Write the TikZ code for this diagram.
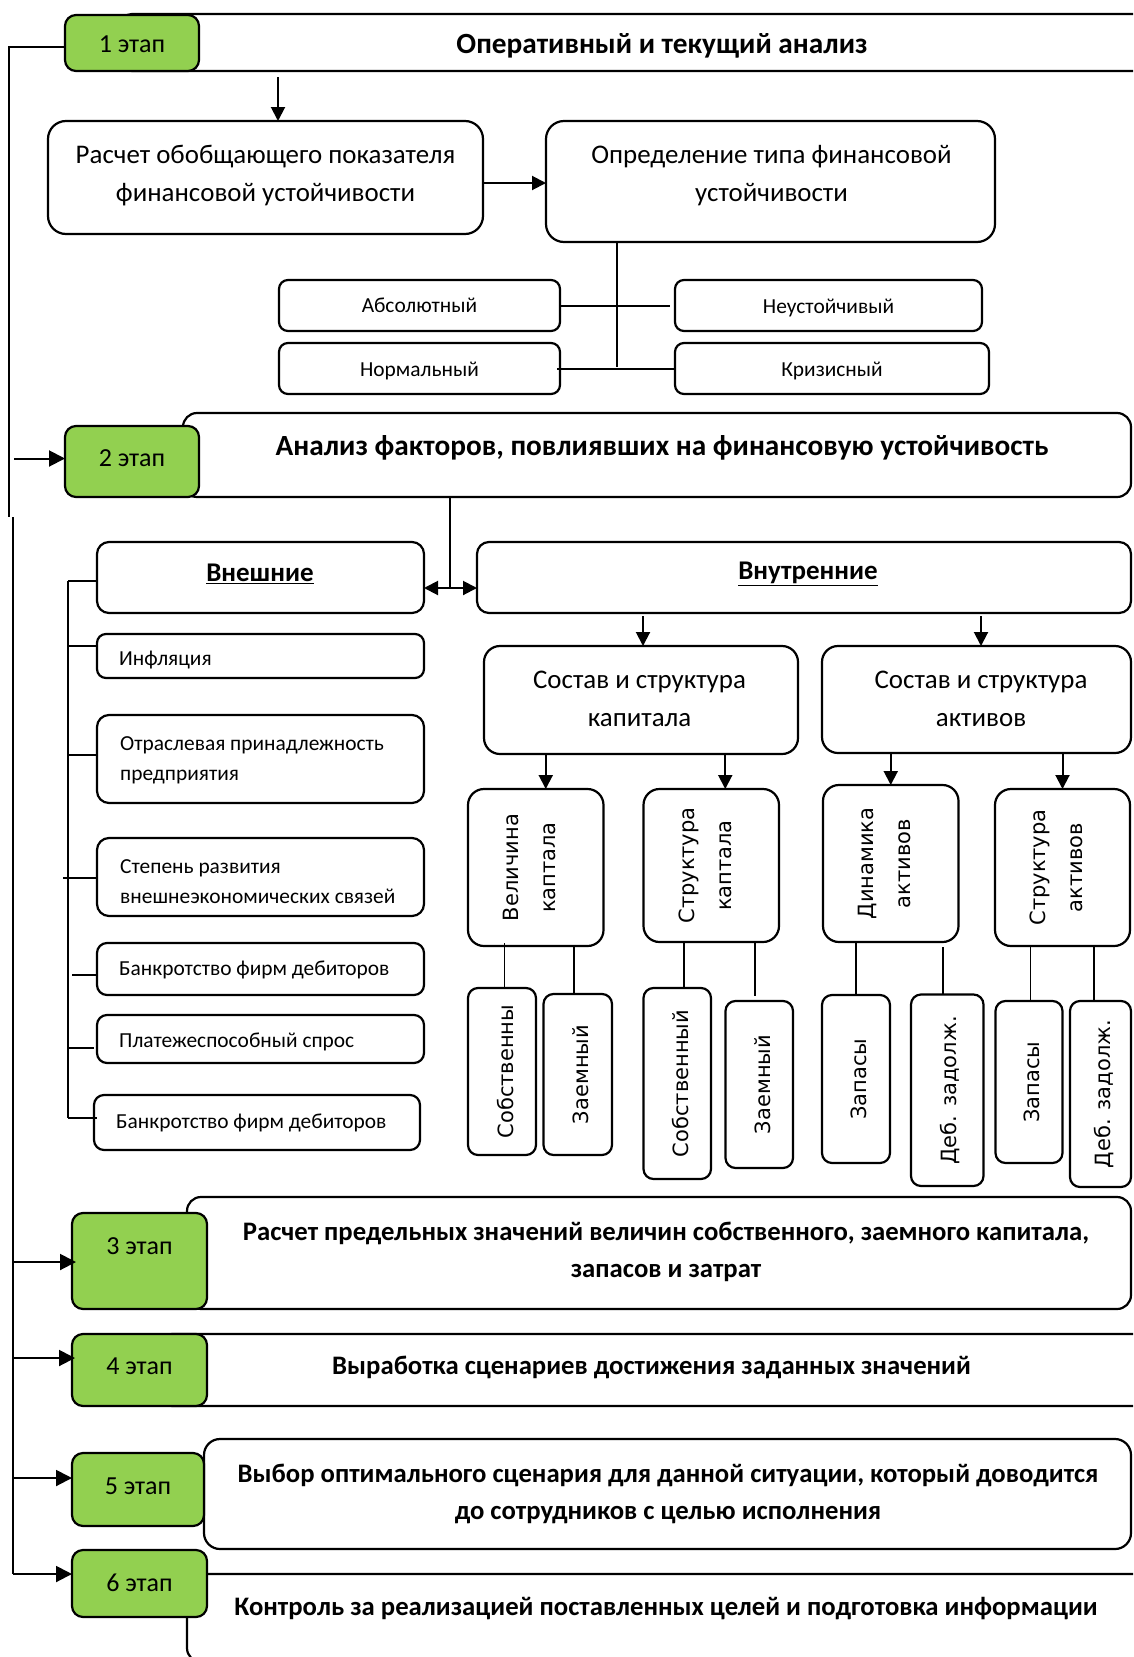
\documentclass[tikz,border=0pt]{standalone}
\usepackage{fontspec}
\setmainfont{Carlito}
\newfontfamily\dvfont{DejaVu Sans}
\usetikzlibrary{arrows.meta,calc}
\definecolor{stagegreen}{RGB}{146,208,80}
\newcommand{\ttlf}{\bfseries\fontsize{29.3}{37}\selectfont}
\newcommand{\ttlg}{\bfseries\fontsize{26.7}{37}\selectfont}
\newcommand{\stf}{\fontsize{26}{31}\selectfont}
\newcommand{\bgf}{\fontsize{26.9}{38}\selectfont}
\newcommand{\smf}{\fontsize{21.4}{30}\selectfont}
\newcommand{\vtf}{\dvfont\fontsize{21}{37}\selectfont}
\newcommand{\mkbox}[7]{\node[#1, minimum width={#5-#3}, minimum height={#6-#4}] (#2) at ({(#3+#5)/2},{(#4+#6)/2}) {#7};}
\begin{document}
\begin{tikzpicture}[x=1pt,y=-1pt,
 bx/.style={draw=black, line width=2.2pt, fill=white, rounded corners=#1, inner sep=0pt, outer sep=0pt},
 bx/.default=12pt,
 gbox/.style={draw=black, line width=2.2pt, fill=stagegreen, rounded corners=11pt, inner sep=0pt, outer sep=0pt},
 txt/.style={inner sep=0pt, align=center},
 ln/.style={draw=black, line width=2pt},
 thinln/.style={draw=black, line width=1.6pt},
 arr/.style={ln, -{Triangle[length=14pt,width=14pt]}},
 sarr/.style={ln, -{Triangle[length=16pt,width=16pt]}},
 vt/.style={inner sep=0pt, align=center, rotate=90, font=\vtf},
]
\useasboundingbox (0,0) rectangle (1133,1657);
\fill[white] (0,0) rectangle (1133,1657);
\clip (0,0) rectangle (1133,1657);

% ---------- left feedback line ----------
\coordinate (Ltop) at (9,46.7);
\coordinate (Ljog) at (9,517);
\coordinate (Lbot) at (12.5,1574);

% ---------- stage 1 ----------
\mkbox{bx}{s1}{120}{14}{1190}{71}{}
\mkbox{gbox}{g1}{65}{15}{199}{71}{}
\node[txt, font=\stf] (g1t) at (132,44) {1 этап};
\node[txt, font=\ttlf] (t1) at (662,46) {Оперативный и текущий анализ};
\draw[ln] (g1.west |- Ltop) -- (Ltop) -- (Ljog);
\draw[ln] (Ljog -| Lbot) -- (Lbot);

\mkbox{bx=18pt}{rasch}{48}{121}{483}{234}{}
\node[txt, font=\bgf] (rascht) at (265.5,176) {Расчет обобщающего показателя\\финансовой устойчивости};
\mkbox{bx=18pt}{opred}{546}{121}{995}{242}{}
\node[txt, font=\bgf] (opredt) at (771.5,176) {Определение типа финансовой\\устойчивости};

\path ($(rasch.north)+(12.5,0)$) coordinate (a1);
\draw[arr] ($(a1 |- s1.south)+(0,6)$) -- (a1);
\path ($(rasch.east)+(0,5.5)$) coordinate (a2);
\draw[arr] (a2) -- (a2 -| opred.west);

\mkbox{bx=9pt}{abs}{279}{280}{560}{331}{\smf Абсолютный}
\mkbox{bx=9pt}{norm}{279}{343}{560}{394}{}
\mkbox{bx=9pt}{neust}{675}{280}{982}{331}{}
\mkbox{bx=9pt}{kriz}{675}{343}{989}{394}{}
\node[txt, font=\smf] (normt) at ($(norm.center)+(0,2)$) {Нормальный};
\node[txt, font=\smf] (neustt) at ($(neust.center)+(0,2)$) {Неустойчивый};
\node[txt, font=\smf] (krizt) at ($(kriz.center)+(0,2)$) {Кризисный};

\coordinate (hub) at (617,367);
\draw[ln] (hub |- opred.south) -- (hub);
\draw[ln] (abs.east) -- ($(abs.east -| neust.west)+(-5,0)$);
\draw[ln] ($(norm.east)+(-3,0)$) -- (kriz.west);

% ---------- stage 2 ----------
\mkbox{bx=14pt}{s2}{183}{413}{1131}{497}{}
\mkbox{gbox}{g2}{65}{426}{199}{497}{}
\node[txt, font=\stf] (g2t) at (132,458) {2 этап};
\node[txt, font=\ttlf] (t2) at (662,448) {Анализ факторов, повлиявших на финансовую устойчивость};
\path ($(g2.west)+(0,-3)$) coordinate (a3);
\draw[sarr] ($(a3 -| Lbot)+(1.5,0)$) -- (a3);

\mkbox{bx}{vnesh}{97}{542}{424}{613}{}
\node[txt, font=\bfseries\fontsize{27}{32}\selectfont] (vnesht) at (260,574) {\underline{Внешние}};
\mkbox{bx}{vnutr}{477}{542}{1131}{613}{}
\node[txt, font=\bfseries\fontsize{27}{32}\selectfont] (vnutrt) at (808,574) {\underline{Внутренние}};

\coordinate (j2) at (450,588);
\draw[ln] (j2 |- s2.south) -- (j2);
\draw[arr] (j2) -- (j2 -| vnesh.east);
\draw[arr] (j2) -- (j2 -| vnutr.west);

% external factors
\mkbox{bx=9pt}{infl}{97}{634}{424}{678}{}
\mkbox{bx=12pt}{otr}{97}{715}{424}{803}{}
\mkbox{bx=12pt}{stp}{97}{838}{424}{916}{}
\mkbox{bx=10pt}{bankA}{97}{943}{424}{995}{}
\mkbox{bx=10pt}{plat}{97}{1015}{424}{1063}{}
\mkbox{bx=10pt}{bankB}{94}{1095}{420}{1150}{}
\node[txt, align=left, anchor=west, font=\smf] (inflt) at ($(infl.west)+(22,4)$) {Инфляция};
\node[txt, align=left, anchor=west, font=\smf] (otrt) at ($(otr.west)+(23,1)$) {Отраслевая принадлежность\\предприятия};
\node[txt, align=left, anchor=west, font=\smf] (stpt) at ($(stp.west)+(23,5)$) {Степень развития\\внешнеэкономических связей};
\node[txt, align=left, anchor=west, font=\smf] (bankAt) at ($(bankA.west)+(22,1)$) {Банкротство фирм дебиторов};
\node[txt, align=left, anchor=west, font=\smf] (platt) at ($(plat.west)+(22,3)$) {Платежеспособный спрос};
\node[txt, align=left, anchor=west, font=\smf] (bankBt) at ($(bankB.west)+(22,0)$) {Банкротство фирм дебиторов};

\coordinate (bus) at (68,581);
\coordinate (busend) at (68,1118);
\draw[ln] (bus) -- (busend);
\draw[ln] (bus) -- (bus -| vnesh.west);
\path ($(infl.west)+(0,-10)$) coordinate (e1);  \draw[ln] (e1 -| bus) -- (e1);
\path ($(otr.west)+(0,-4)$) coordinate (e2);    \draw[ln] (e2 -| bus) -- (e2);
\path ($(stp.west)+(0,1)$) coordinate (e3);     \draw[ln] ($(e3 -| bus)+(-5,0)$) -- (e3);
\path ($(bankA.west)+(0,6)$) coordinate (e4);   \draw[ln] ($(e4 -| bus)+(4,0)$) -- (e4);
\path ($(plat.west)+(0,9)$) coordinate (e5);    \draw[ln] (e5 -| bus) -- ($(e5)+(-3,0)$);
\draw[ln] (busend) -- ($(busend -| bankB.west)+(3,0)$);

% internal factors
\mkbox{bx=16pt}{sk}{484}{646}{798}{754}{}
\node[txt, font=\bgf] (skt) at (639.5,698.5) {Состав и структура\\капитала};
\mkbox{bx=16pt}{sa}{822}{646}{1131}{753}{}
\node[txt, font=\bgf] (sat) at (981,698.5) {Состав и структура\\активов};

\path ($(sk.north)+(2,0)$) coordinate (i1);
\draw[arr] ($(i1 |- vnutr.south)+(0,3)$) -- (i1);
\path ($(sa.north)+(4.5,0)$) coordinate (i2);
\draw[arr] ($(i2 |- vnutr.south)+(0,3)$) -- (i2);

\mkbox{bx=16pt}{vk}{468}{789}{603.5}{946}{}
\mkbox{bx=16pt}{stk}{643.5}{789}{779}{942}{}
\mkbox{bx=16pt}{dyn}{823}{785}{958.5}{942}{}
\mkbox{bx=16pt}{sta}{995}{789}{1130}{946}{}
\node[vt] (vkt) at ($(vk.center)+(-6,0)$) {Величина\\каптала};
\node[vt] (stkt) at ($(stk.center)+(-6,0)$) {Структура\\каптала};
\node[vt] (dynt) at ($(dyn.center)+(-6,0)$) {Динамика\\активов};
\node[vt] (stat) at ($(sta.center)+(-6,0)$) {Структура\\активов};

\path ($(vk.north)+(10,0)$) coordinate (k1);
\draw[arr] (k1 |- sk.south) -- (k1);
\path ($(stk.north)+(14,0)$) coordinate (k2);
\draw[arr] (k2 |- sk.south) -- (k2);
\path (dyn.north) coordinate (k3);
\draw[arr] (k3 |- sa.south) -- (k3);
\path (sta.north) coordinate (k4);
\draw[arr] (k4 |- sa.south) -- (k4);

\mkbox{bx=10pt}{l1}{468}{988}{536}{1155}{}
\mkbox{bx=10pt}{l2}{543.5}{994}{612}{1155}{}
\mkbox{bx=10pt}{l3}{643.5}{988}{711}{1179}{}
\mkbox{bx=10pt}{l4}{725.5}{1001}{793}{1168}{}
\mkbox{bx=10pt}{l5}{822}{995}{890}{1163}{}
\mkbox{bx=10pt}{l6}{911}{994.5}{983.5}{1186}{}
\mkbox{bx=10pt}{l7}{995.5}{1001}{1062.5}{1163}{}
\mkbox{bx=10pt}{l8}{1070}{1001}{1131}{1187}{}
\node[vt] (l1t) at ($(l1.center)+(3,0)$) {Собственны};
\node[vt] (l2t) at ($(l2.center)+(3,0)$) {Заемный};
\node[vt] (l3t) at ($(l3.center)+(3,0)$) {Собственный};
\node[vt] (l4t) at ($(l4.center)+(3,0)$) {Заемный};
\node[vt] (l5t) at ($(l5.center)+(3,0)$) {Запасы};
\node[vt] (l6t) at ($(l6.center)+(3,0)$) {Деб. задолж.};
\node[vt] (l7t) at ($(l7.center)+(3,0)$) {Запасы};
\node[vt] (l8t) at ($(l8.center)+(3,0)$) {Деб. задолж.};

\path ($(l1.north)+(2.5,0)$) coordinate (c1); \draw[thinln] ($(c1 |- vk.south)+(0,-3)$) -- (c1);
\path ($(l2.north)+(-3.75,0)$) coordinate (c2); \draw[thinln] (c2 |- vk.south) -- (c2);
\path ($(l3.north)+(7,0)$) coordinate (c3); \draw[thinln] (c3 |- stk.south) -- (c3);
\path ($(l4.north)+(-4.5,-5)$) coordinate (c4); \draw[thinln] (c4 |- stk.south) -- (c4);
\path (l5.north) coordinate (c5); \draw[thinln] (c5 |- dyn.south) -- (c5);
\path ($(l6.north)+(-4.5,0)$) coordinate (c6); \draw[thinln] ($(c6 |- dyn.south)+(0,5)$) -- (c6);
\path ($(l7.north)+(1.5,0)$) coordinate (c7); \draw[thinln] (c7 |- sta.south) -- (c7);
\path ($(l8.north)+(-6.5,0)$) coordinate (c8); \draw[thinln] (c8 |- sta.south) -- (c8);

% ---------- stage 3 ----------
\mkbox{bx=14pt}{s3}{187}{1197}{1131}{1309}{}
\mkbox{gbox}{g3}{72}{1213}{207}{1309}{}
\node[txt, font=\stf] (g3t) at (139.5,1246) {3 этап};
\node[txt, font=\ttlg] (t3) at (666,1251.5) {Расчет предельных значений величин собственного, заемного капитала,\\запасов и затрат};
\path ($(g3.west)+(4,1)$) coordinate (a4);
\draw[sarr] (a4 -| Lbot) -- (a4);

% ---------- stage 4 ----------
\mkbox{bx=12pt}{s4}{160}{1334}{1190}{1406}{}
\mkbox{gbox}{g4}{72}{1334}{207}{1406}{}
\node[txt, font=\stf] (g4t) at (139.5,1366) {4 этап};
\node[txt, font=\ttlg] (t4) at (651.6,1367) {Выработка сценариев достижения заданных значений};
\path ($(g4.west)+(3,-12)$) coordinate (a5);
\draw[sarr] (a5 -| Lbot) -- (a5);

% ---------- stage 5 ----------
\mkbox{bx=16pt}{s5}{204}{1439}{1131}{1549}{}
\mkbox{gbox}{g5}{72}{1453}{204}{1526}{}
\node[txt, font=\stf] (g5t) at (138,1486) {5 этап};
\node[txt, font=\ttlg] (t5) at (668,1494) {Выбор оптимального сценария для данной ситуации, который доводится\\до сотрудников с целью исполнения};
\path ($(g5.west)+(0,-11.5)$) coordinate (a6);
\draw[sarr] (a6 -| Lbot) -- (a6);

% ---------- stage 6 ----------
\mkbox{bx=14pt}{s6}{187}{1574}{1190}{1662}{}
\mkbox{gbox}{g6}{72}{1550}{207}{1617}{}
\node[txt, font=\stf] (g6t) at (139.5,1583) {6 этап};
\node[txt, font=\ttlg] (t6) at (666,1608.5) {Контроль за реализацией поставленных целей и подготовка информации};
\draw[sarr] (Lbot) -- (Lbot -| g6.west);
\end{tikzpicture}
\end{document}
